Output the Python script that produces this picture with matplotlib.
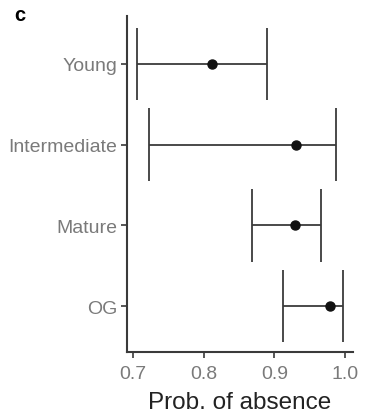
import matplotlib.pyplot as plt

plt.rcParams['font.family'] = ['Liberation Sans', 'DejaVu Sans']

# 各林龄阶段的缺失概率（点估计及区间）
stages = ['OG', 'Mature', 'Intermediate', 'Young']
prob = [0.979, 0.929, 0.930, 0.812]
lower = [0.912, 0.868, 0.722, 0.706]
upper = [0.997, 0.966, 0.987, 0.890]

fig = plt.figure(figsize=(3.66, 4.14), dpi=100)
ax = fig.add_axes([0.347, 0.147, 0.6175, 0.812])

ypos = list(range(1, len(stages) + 1))
line_col = '#3a3a3a'
for y, lo, hi in zip(ypos, lower, upper):
    ax.hlines(y, lo, hi, color=line_col, linewidth=1.3)
    ax.vlines([lo, hi], y - 0.45, y + 0.45, color=line_col, linewidth=1.3)
ax.plot(prob, ypos, 'o', color='#111111', markersize=6.5, zorder=3)

ax.set_xlim(0.6915, 1.011)
ax.set_ylim(0.43, 4.595)
ax.set_yticks(ypos)
ax.set_yticklabels(stages)
ax.set_xticks([0.7, 0.8, 0.9, 1.0])
ax.set_xticklabels(['0.7', '0.8', '0.9', '1.0'])
ax.set_xlabel('Prob. of absence', fontsize=17.5, color='#222222', labelpad=7)

for side in ['top', 'right']:
    ax.spines[side].set_visible(False)
for side in ['left', 'bottom']:
    ax.spines[side].set_color('#3a3a3a')
    ax.spines[side].set_linewidth(1.5)
ax.tick_params(axis='both', colors='#3a3a3a', labelcolor='#7a7a7a',
               labelsize=14, length=4, width=1.2, pad=3)
ax.tick_params(axis='x', pad=5)

fig.text(0.055, 0.963, 'c', fontsize=14.5, fontweight='bold', ha='center', va='center')

plt.savefig('out.png', dpi=100)
